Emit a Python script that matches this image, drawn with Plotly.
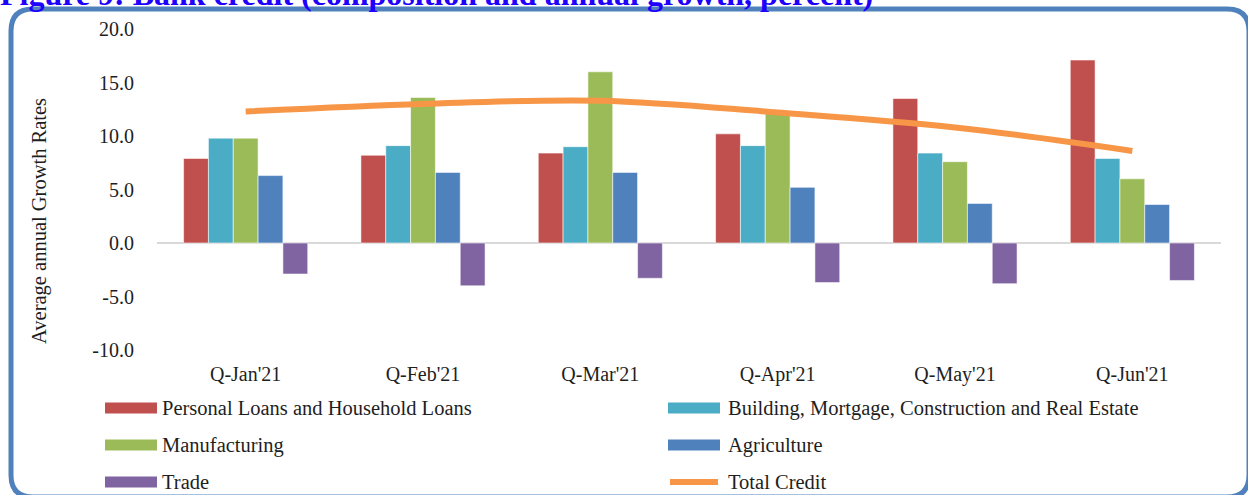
import plotly.graph_objects as go

# Quarterly bank credit growth by sector (annual growth, percent)
quarters = ["Q-Jan'21", "Q-Feb'21", "Q-Mar'21", "Q-Apr'21", "Q-May'21", "Q-Jun'21"]

personal = [7.9, 8.2, 8.4, 10.2, 13.5, 17.1]
building = [9.8, 9.1, 9.0, 9.1, 8.4, 7.9]
manufacturing = [9.8, 13.6, 16.0, 12.1, 7.6, 6.0]
agriculture = [6.3, 6.6, 6.6, 5.2, 3.7, 3.6]
trade = [-2.9, -4.0, -3.3, -3.7, -3.8, -3.5]
total_credit = [12.3, 13.0, 13.3, 12.2, 10.8, 8.6]

series_names = [
    "Personal Loans and Household Loans",
    "Building, Mortgage, Construction and Real Estate",
    "Manufacturing",
    "Agriculture",
    "Trade",
    "Total Credit",
]
series_colors = ["#C0504D", "#4BACC6", "#9BBB59", "#4F81BD", "#8064A2", "#F79646"]

y_tickvals = [-10, -5, 0, 5, 10, 15, 20]
y_ticktext = ["-10.0", "-5.0", "0.0", "5.0", "10.0", "15.0", "20.0"]

title_text = "Figure 9: Bank credit (composition and annual growth, percent)"
y_title = "Average annual Growth Rates"

FONT = "Liberation Serif"
TEXT_COLOR = "#1e1e1e"

W, H = 1248, 495
ML, MR, MT, MB = 157, 27, 29, 145
PW, PH = W - ML - MR, H - MT - MB


def px(x):
    return (x - ML) / PW


def py(y):
    return (H - MB - y) / PH


fig = go.Figure()

bar_values = [personal, building, manufacturing, agriculture, trade]
for name, vals, col in zip(series_names[:5], bar_values, series_colors[:5]):
    fig.add_trace(go.Bar(
        x=quarters, y=vals, name=name,
        marker=dict(color=col, line=dict(color="rgba(255,255,255,0.55)", width=1)),
        showlegend=False,
    ))

fig.add_trace(go.Scatter(
    x=quarters, y=total_credit, name=series_names[5], mode="lines",
    line=dict(color=series_colors[5], width=6, shape="spline", smoothing=1.0),
    showlegend=False,
))

shapes = []
annotations = []

# Rounded frame around the figure
x0, x1, y0, y1, r = 11, 1249, 9, 497, 22
path = (
    f"M {px(x0 + r)},{py(y0)} L {px(x1 - r)},{py(y0)} "
    f"Q {px(x1)},{py(y0)} {px(x1)},{py(y0 + r)} "
    f"L {px(x1)},{py(y1 - r)} Q {px(x1)},{py(y1)} {px(x1 - r)},{py(y1)} "
    f"L {px(x0 + r)},{py(y1)} Q {px(x0)},{py(y1)} {px(x0)},{py(y1 - r)} "
    f"L {px(x0)},{py(y0 + r)} Q {px(x0)},{py(y0)} {px(x0 + r)},{py(y0)} Z"
)
shapes.append(dict(type="path", xref="paper", yref="paper", path=path,
                   line=dict(color="#4F81BD", width=5), layer="above"))

# Legend: two columns, three rows
rows = [408, 445, 482]
cols = [(105, 157, 160), (668, 720, 726)]
for i, (name, col) in enumerate(zip(series_names, series_colors)):
    r_y = rows[i // 2]
    sx0, sx1, tx = cols[i % 2]
    if name == "Total Credit":
        shapes.append(dict(type="line", xref="paper", yref="paper",
                           x0=px(sx0 + 2), x1=px(sx1 - 2), y0=py(r_y), y1=py(r_y),
                           line=dict(color=col, width=6)))
    else:
        shapes.append(dict(type="rect", xref="paper", yref="paper",
                           x0=px(sx0), x1=px(sx1), y0=py(r_y + 5.5), y1=py(r_y - 5.5),
                           fillcolor=col, line=dict(width=0)))
    annotations.append(dict(text=name, xref="paper", yref="paper",
                            x=px(tx), y=py(r_y), xanchor="left", yanchor="middle",
                            showarrow=False, font=dict(family=FONT, size=20.5, color=TEXT_COLOR)))

# Y axis title
annotations.append(dict(text=y_title, xref="paper", yref="paper",
                        x=px(39), y=py(221), xanchor="center", yanchor="middle",
                        textangle=-90, showarrow=False,
                        font=dict(family=FONT, size=20.5, color=TEXT_COLOR)))

# Figure heading
annotations.append(dict(text=f"<b>{title_text}</b>", xref="paper", yref="paper",
                        x=px(875), y=py(14), xanchor="right", yanchor="bottom",
                        showarrow=False,
                        font=dict(family=FONT, size=32, color="#1F00FF")))

fig.update_layout(
    width=W, height=H, autosize=False,
    margin=dict(l=ML, r=MR, t=MT, b=MB),
    paper_bgcolor="white", plot_bgcolor="white",
    barmode="group", bargap=0.3, bargroupgap=0.0,
    font=dict(family=FONT, size=20, color=TEXT_COLOR),
    shapes=shapes, annotations=annotations,
    showlegend=False,
)
fig.update_xaxes(
    type="category", showgrid=False, showline=False, ticks="",
    ticklabelstandoff=10, tickfont=dict(family=FONT, size=20, color=TEXT_COLOR),
)
fig.update_yaxes(
    range=[-10, 20], tickvals=y_tickvals, ticktext=y_ticktext,
    showgrid=False, showline=False, ticks="",
    zeroline=True, zerolinecolor="#D9D9D9", zerolinewidth=2,
    ticklabelstandoff=22, tickfont=dict(family=FONT, size=20, color=TEXT_COLOR),
)

fig.write_html("out.html")
